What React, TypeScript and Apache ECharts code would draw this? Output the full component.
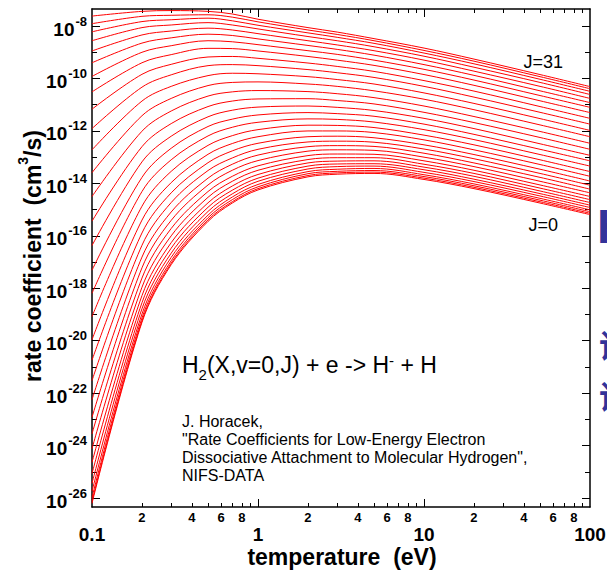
import React, { useEffect, useRef } from 'react';
import * as echarts from 'echarts';

const FONT = '"Liberation Sans", Arial, Helvetica, sans-serif';

// electron temperature (eV) at which the curves were read
const temperatureEV = [0.1, 0.2, 0.3, 0.5, 0.7, 1, 2, 3, 5, 10, 20, 50, 100];

// log10 of rate coefficient (cm^3/s) for each rotational level J
const J0 = [-26.2, -19.3, -17.1, -15.45, -14.75, -14.25, -13.75, -13.65, -13.62, -13.85, -14.2, -14.75, -15.19];
const J1 = [-26.12, -19.24, -17.04, -15.39, -14.7, -14.2, -13.7, -13.6, -13.57, -13.8, -14.15, -14.7, -15.14];
const J2 = [-25.97, -19.13, -16.95, -15.31, -14.62, -14.13, -13.63, -13.54, -13.51, -13.74, -14.09, -14.64, -15.08];
const J3 = [-25.74, -18.98, -16.82, -15.21, -14.52, -14.04, -13.55, -13.46, -13.43, -13.67, -14.02, -14.57, -15.01];
const J4 = [-25.44, -18.78, -16.66, -15.07, -14.4, -13.92, -13.45, -13.36, -13.34, -13.58, -13.93, -14.48, -14.92];
const J5 = [-25.07, -18.55, -16.47, -14.91, -14.26, -13.8, -13.34, -13.26, -13.25, -13.48, -13.84, -14.39, -14.83];
const J6 = [-24.64, -18.28, -16.26, -14.74, -14.1, -13.66, -13.22, -13.15, -13.14, -13.38, -13.73, -14.29, -14.73];
const J7 = [-24.12, -17.96, -16.0, -14.53, -13.92, -13.5, -13.09, -13.02, -13.02, -13.27, -13.62, -14.18, -14.62];
const J8 = [-23.55, -17.61, -15.72, -14.31, -13.73, -13.33, -12.94, -12.88, -12.89, -13.14, -13.5, -14.06, -14.5];
const J9 = [-22.92, -17.22, -15.41, -14.06, -13.5, -13.13, -12.77, -12.72, -12.74, -13.0, -13.36, -13.92, -14.36];
const J10 = [-22.25, -16.81, -15.09, -13.8, -13.27, -12.92, -12.6, -12.56, -12.59, -12.85, -13.22, -13.77, -14.22];
const J11 = [-21.52, -16.36, -14.73, -13.51, -13.03, -12.7, -12.42, -12.39, -12.43, -12.69, -13.06, -13.62, -14.07];
const J12 = [-20.74, -15.89, -14.36, -13.21, -12.76, -12.47, -12.22, -12.2, -12.26, -12.53, -12.9, -13.46, -13.91];
const J13 = [-19.96, -15.4, -13.97, -12.89, -12.48, -12.22, -12.0, -12.0, -12.06, -12.34, -12.72, -13.28, -13.73];
const J14 = [-19.08, -14.87, -13.54, -12.55, -12.18, -11.95, -11.78, -11.79, -11.87, -12.16, -12.53, -13.1, -13.55];
const J15 = [-18.19, -14.31, -13.1, -12.19, -11.86, -11.67, -11.54, -11.56, -11.66, -11.95, -12.33, -12.9, -13.34];
const J16 = [-17.31, -13.77, -12.66, -11.83, -11.55, -11.39, -11.3, -11.34, -11.44, -11.74, -12.13, -12.7, -13.14];
const J17 = [-16.37, -13.18, -12.2, -11.46, -11.21, -11.09, -11.05, -11.1, -11.22, -11.52, -11.91, -12.49, -12.93];
const J18 = [-15.44, -12.6, -11.72, -11.07, -10.86, -10.78, -10.77, -10.84, -10.97, -11.29, -11.68, -12.25, -12.7];
const J19 = [-14.5, -12.01, -11.24, -10.67, -10.51, -10.46, -10.5, -10.58, -10.73, -11.05, -11.45, -12.02, -12.47];
const J20 = [-13.59, -11.42, -10.76, -10.27, -10.15, -10.13, -10.21, -10.3, -10.47, -10.79, -11.19, -11.77, -12.22];
const J21 = [-12.72, -10.86, -10.3, -9.89, -9.8, -9.82, -9.93, -10.04, -10.21, -10.55, -10.95, -11.53, -11.98];
const J22 = [-11.91, -10.33, -9.86, -9.51, -9.47, -9.51, -9.66, -9.78, -9.96, -10.3, -10.71, -11.29, -11.74];
const J23 = [-11.17, -9.84, -9.46, -9.18, -9.16, -9.23, -9.41, -9.54, -9.73, -10.08, -10.48, -11.07, -11.52];
const J24 = [-10.51, -9.4, -9.09, -8.85, -8.86, -8.95, -9.16, -9.3, -9.5, -9.85, -10.26, -10.85, -11.3];
const J25 = [-9.92, -9.0, -8.75, -8.56, -8.6, -8.71, -8.94, -9.08, -9.3, -9.65, -10.06, -10.65, -11.1];
const J26 = [-9.4, -8.65, -8.45, -8.31, -8.36, -8.49, -8.74, -8.89, -9.11, -9.47, -9.88, -10.47, -10.92];
const J27 = [-8.95, -8.34, -8.19, -8.08, -8.15, -8.29, -8.56, -8.72, -8.94, -9.3, -9.72, -10.3, -10.76];
const J28 = [-8.56, -8.06, -7.96, -7.87, -7.96, -8.11, -8.4, -8.56, -8.79, -9.15, -9.57, -10.15, -10.61];
const J29 = [-8.22, -7.83, -7.76, -7.7, -7.8, -7.97, -8.26, -8.43, -8.66, -9.03, -9.44, -10.03, -10.49];
const J30 = [-7.91, -7.63, -7.59, -7.57, -7.66, -7.84, -8.15, -8.32, -8.56, -8.93, -9.34, -9.93, -10.39];
const J31 = [-7.62, -7.44, -7.41, -7.44, -7.54, -7.74, -8.06, -8.23, -8.48, -8.84, -9.26, -9.85, -10.31];

const rateCurves = [
  J0, J1, J2, J3, J4, J5, J6, J7, J8, J9, J10, J11, J12, J13, J14, J15,
  J16, J17, J18, J19, J20, J21, J22, J23, J24, J25, J26, J27, J28, J29, J30, J31,
];

// axis ticks and labels
const xMajorValues = [0.1, 1, 10, 100];
const xMajorLabels = ['0.1', '1', '10', '100'];
const xMinorValues = [0.2, 0.3, 0.4, 0.5, 0.6, 0.7, 0.8, 0.9, 2, 3, 4, 5, 6, 7, 8, 9, 20, 30, 40, 50, 60, 70, 80, 90];
const xMinorLabelValues = [0.2, 0.4, 0.6, 0.8, 2, 4, 6, 8, 20, 40, 60, 80];
const xMinorLabels = ['2', '4', '6', '8', '2', '4', '6', '8', '2', '4', '6', '8'];
const yMajorExponents = [-26, -24, -22, -20, -18, -16, -14, -12, -10, -8];
const yMinorExponents = [-25, -23, -21, -19, -17, -15, -13, -11, -9];

const X_MIN = -1; // log10(0.1 eV)
const X_MAX = 2; // log10(100 eV)
const Y_MIN = -26.34;
const Y_MAX = -7.35;

const lg = (v: number) => Math.log10(v);
const labelAt = (vals: number[], labels: string[], v: number) => {
  const i = vals.findIndex((t) => Math.abs(lg(t) - v) < 1e-6);
  return i >= 0 ? labels[i] : '';
};

const tickStyle = { color: '#000', width: 1 };
const lineStyle = { color: '#000', width: 1.5 };

function buildOption(): any {
  const xBase = { type: 'value', gridIndex: 0, min: X_MIN, max: X_MAX, splitLine: { show: false } };
  const yBase = { type: 'value', gridIndex: 0, min: Y_MIN, max: Y_MAX, splitLine: { show: false } };
  const noLabel = { show: false };

  return {
    animation: false,
    backgroundColor: '#fff',
    grid: { left: 92, right: 17, top: 9, bottom: 66, containLabel: false, outerBoundsMode: 'none' },
    xAxis: [
      {
        ...xBase,
        position: 'bottom',
        axisLine: { show: true, onZero: false, lineStyle },
        axisTick: { show: true, inside: true, length: 8, customValues: [lg(1), lg(10)], lineStyle: tickStyle },
        axisLabel: {
          show: true,
          customValues: xMajorValues.map(lg),
          formatter: (v: number) => labelAt(xMajorValues, xMajorLabels, v),
          margin: 18,
          color: '#000',
          fontSize: 19,
          fontWeight: 'bold',
          fontFamily: FONT,
        },
      },
      {
        ...xBase,
        position: 'bottom',
        axisLine: { show: false, onZero: false },
        axisTick: { show: true, inside: true, length: 4, customValues: xMinorValues.map(lg), lineStyle: tickStyle },
        axisLabel: {
          show: true,
          customValues: xMinorLabelValues.map(lg),
          formatter: (v: number) => labelAt(xMinorLabelValues, xMinorLabels, v),
          margin: 4,
          color: '#000',
          fontSize: 13,
          fontWeight: 'bold',
          fontFamily: FONT,
        },
      },
      {
        ...xBase,
        position: 'top',
        axisLine: { show: true, onZero: false, lineStyle },
        axisTick: { show: true, inside: true, length: 8, customValues: [lg(1), lg(10)], lineStyle: tickStyle },
        axisLabel: noLabel,
      },
      {
        ...xBase,
        position: 'top',
        axisLine: { show: false, onZero: false },
        axisTick: { show: true, inside: true, length: 4, customValues: xMinorValues.map(lg), lineStyle: tickStyle },
        axisLabel: noLabel,
      },
    ],
    yAxis: [
      {
        ...yBase,
        position: 'left',
        axisLine: { show: true, onZero: false, lineStyle },
        axisTick: { show: true, inside: true, length: 8, customValues: yMajorExponents, lineStyle: tickStyle },
        axisLabel: {
          show: true,
          customValues: yMajorExponents,
          formatter: (v: number) => `{b|10}{s|${Math.round(v)}}`,
          margin: 5,
          rich: {
            b: { fontSize: 19, fontWeight: 'bold', fontFamily: FONT, color: '#000', verticalAlign: 'middle', padding: [6, 0, 0, 0] },
            s: { fontSize: 13, fontWeight: 'bold', fontFamily: FONT, color: '#000', verticalAlign: 'middle', padding: [0, 0, 10, 1] },
          },
        },
      },
      {
        ...yBase,
        position: 'left',
        axisLine: { show: false, onZero: false },
        axisTick: { show: true, inside: true, length: 5, customValues: yMinorExponents, lineStyle: tickStyle },
        axisLabel: noLabel,
      },
      {
        ...yBase,
        position: 'right',
        axisLine: { show: true, onZero: false, lineStyle },
        axisTick: { show: true, inside: true, length: 8, customValues: yMajorExponents, lineStyle: tickStyle },
        axisLabel: noLabel,
      },
      {
        ...yBase,
        position: 'right',
        axisLine: { show: false, onZero: false },
        axisTick: { show: true, inside: true, length: 5, customValues: yMinorExponents, lineStyle: tickStyle },
        axisLabel: noLabel,
      },
    ],
    series: rateCurves.map((curve, j) => ({
      type: 'line',
      name: `J=${j}`,
      xAxisIndex: 0,
      yAxisIndex: 0,
      data: temperatureEV.map((t, i) => [lg(t), curve[i]]),
      showSymbol: false,
      symbol: 'none',
      smooth: 0.35,
      clip: true,
      silent: true,
      lineStyle: { color: '#ff0000', width: 1 },
    })),
    graphic: {
      elements: [
        {
          type: 'text', x: 563, y: 62, silent: true,
          style: { text: 'J=31', fill: '#000', fontSize: 18, fontFamily: FONT, align: 'right', verticalAlign: 'middle', textAlign: 'right', textVerticalAlign: 'middle' },
        },
        {
          type: 'text', x: 558, y: 225, silent: true,
          style: { text: 'J=0', fill: '#000', fontSize: 18, fontFamily: FONT, align: 'right', verticalAlign: 'middle', textAlign: 'right', textVerticalAlign: 'middle' },
        },
        {
          type: 'text', x: 182, y: 365, silent: true,
          style: {
            text: '{n|H}{d|2}{n|(X,v=0,J) + e -> H}{u|-}{n| + H}',
            fill: '#000', fontSize: 23, fontFamily: FONT,
            align: 'left', verticalAlign: 'middle', textAlign: 'left', textVerticalAlign: 'middle',
            rich: {
              n: { fontSize: 23, fontFamily: FONT, fill: '#000', verticalAlign: 'middle' },
              d: { fontSize: 15, fontFamily: FONT, fill: '#000', verticalAlign: 'middle', padding: [19, 0, 0, 0] },
              u: { fontSize: 15, fontFamily: FONT, fill: '#000', verticalAlign: 'middle', padding: [0, 0, 9, 0] },
            },
          },
        },
        {
          type: 'text', x: 182, y: 448, silent: true,
          style: {
            text: 'J. Horacek,\n"Rate Coefficients for Low-Energy Electron\nDissociative Attachment to Molecular Hydrogen",\nNIFS-DATA',
            fill: '#000', fontSize: 16, fontFamily: FONT, lineHeight: 18,
            align: 'left', verticalAlign: 'middle', textAlign: 'left', textVerticalAlign: 'middle',
          },
        },
        {
          type: 'text', x: 342, y: 557, silent: true,
          style: {
            text: 'temperature  (eV)', fill: '#000', fontSize: 23, fontWeight: 'bold', fontFamily: FONT,
            align: 'center', verticalAlign: 'middle', textAlign: 'center', textVerticalAlign: 'middle',
          },
        },
        {
          type: 'text', x: 33, y: 256, rotation: Math.PI / 2, silent: true,
          style: {
            text: '{m|rate coefficient  (cm}{p|3}{m|/s)}',
            fill: '#000', fontSize: 23, fontWeight: 'bold', fontFamily: FONT,
            align: 'center', verticalAlign: 'middle', textAlign: 'center', textVerticalAlign: 'middle',
            rich: {
              m: { fontSize: 23, fontWeight: 'bold', fontFamily: FONT, fill: '#000', verticalAlign: 'middle' },
              p: { fontSize: 14, fontWeight: 'bold', fontFamily: FONT, fill: '#000', verticalAlign: 'middle', padding: [0, 0, 20, 0] },
            },
          },
        },
        {
          type: 'text', x: 597, y: 226, silent: true,
          style: { text: 'H', fill: '#333399', fontSize: 48, fontWeight: 'bold', fontFamily: FONT, align: 'left', verticalAlign: 'middle', textAlign: 'left', textVerticalAlign: 'middle' },
        },
        {
          type: 'text', x: 599, y: 344, silent: true,
          style: {
            text: '说', fill: '#333399', fontSize: 32, fontWeight: 'bold', fontFamily: '"Noto Sans CJK SC"',
            align: 'left', verticalAlign: 'middle', textAlign: 'left', textVerticalAlign: 'middle',
          },
        },
        {
          type: 'text', x: 599, y: 395, silent: true,
          style: {
            text: '说', fill: '#333399', fontSize: 32, fontWeight: 'bold', fontFamily: '"Noto Sans CJK SC"',
            align: 'left', verticalAlign: 'middle', textAlign: 'left', textVerticalAlign: 'middle',
          },
        },
      ],
    },
  };
}

export default function App() {
  const ref = useRef<HTMLDivElement>(null);
  useEffect(() => {
    if (!ref.current) return;
    const chart = echarts.init(ref.current, undefined, { renderer: 'svg' });
    chart.setOption(buildOption());
    return () => chart.dispose();
  }, []);
  return (
    <div
      ref={ref}
      style={{ position: 'fixed', left: 0, top: 0, width: 607, height: 573, background: '#fff' }}
    />
  );
}
